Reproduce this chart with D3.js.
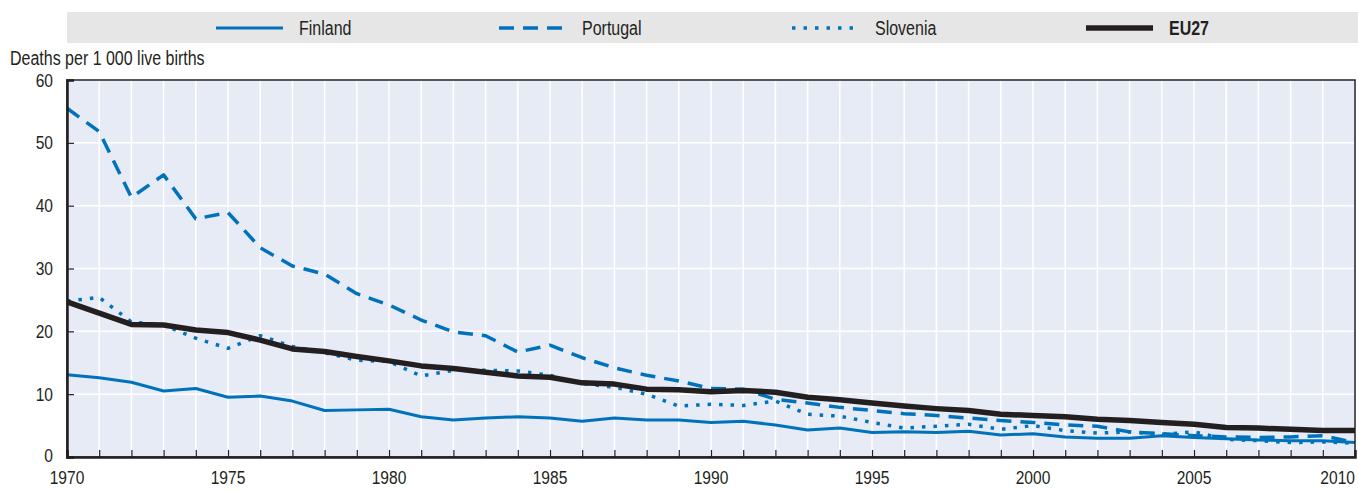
<!DOCTYPE html>
<html>
<head>
<meta charset="utf-8">
<script src="https://cdn.jsdelivr.net/npm/d3@7"></script>
<style>
  body { margin: 0; background: #fff; }
  text { font-family: "Liberation Sans", Arial, sans-serif; fill: #231f20; }
</style>
</head>
<body>
<div id="chart"></div>
<script>
// valeurs (décès pour 1 000 naissances vivantes)
var years = d3.range(1970, 2011);
var finland  = [13.1,12.6,11.9,10.5,10.9,9.5,9.7,8.9,7.4,7.5,7.6,6.4,5.9,6.2,6.4,6.2,5.7,6.2,5.9,5.9,5.5,5.7,5.1,4.3,4.6,3.9,4.0,3.9,4.1,3.5,3.7,3.2,3.0,3.0,3.4,3.1,2.9,2.7,2.6,2.6,2.3];
var portugal = [55.5,51.8,41.3,44.9,37.9,38.9,33.3,30.4,29.1,26.0,24.2,21.8,19.9,19.3,16.7,17.8,15.8,14.2,13.0,12.1,10.9,10.8,9.2,8.6,7.9,7.4,6.9,6.6,6.2,5.8,5.5,5.1,4.9,4.0,3.7,3.4,3.2,3.1,3.2,3.4,2.3];
var slovenia = [24.8,25.4,21.5,21.0,18.9,17.3,19.3,17.6,16.6,15.4,15.2,12.9,13.8,13.8,13.7,13.0,11.7,11.1,10.0,8.1,8.4,8.2,8.9,6.8,6.5,5.5,4.6,4.9,5.2,4.4,5.0,4.2,3.8,4.0,3.6,4.0,2.8,2.6,2.3,2.4,2.2];
var eu27     = [24.7,22.9,21.1,21.0,20.2,19.8,18.6,17.2,16.8,16.0,15.3,14.5,14.1,13.5,12.9,12.7,11.8,11.6,10.8,10.7,10.4,10.6,10.3,9.5,9.1,8.6,8.1,7.7,7.4,6.8,6.6,6.4,6.0,5.8,5.5,5.2,4.7,4.6,4.4,4.2,4.2];
var yTicks = [0, 10, 20, 30, 40, 50, 60];
var xLabels = [1970, 1975, 1980, 1985, 1990, 1995, 2000, 2005, 2010];

var blue = "#0072bc", black = "#231f20";
var series = [
  {name: "Finland",  values: finland,  color: blue,  width: 3,   dash: null,   bold: false},
  {name: "Portugal", values: portugal, color: blue,  width: 3.5, dash: "15,9", bold: false},
  {name: "Slovenia", values: slovenia, color: blue,  width: 3.5, dash: "3.5,8", bold: false},
  {name: "EU27",     values: eu27,     color: black, width: 5.5, dash: null,   bold: true}
];

var W = 1358, H = 490;
var m = {left: 67, right: 3, top: 80, bottom: 33};
var narrow = 0.82; // police étroite simulée

var svg = d3.select("#chart").append("svg")
    .attr("width", W).attr("height", H);

function label(sel, px, py, size){
  return sel.attr("transform", function(d, i){
      return "translate(" + px(d, i) + "," + py(d, i) + ") scale(" + narrow + ",1)";
    })
    .attr("dy", "0.35em")
    .style("font-size", size + "px");
}

// légende
var legend = svg.append("g");
legend.append("rect").attr("x", 67).attr("y", 12).attr("width", W - 67).attr("height", 31).attr("fill", "#e6e6e6");
var legX = [216, 499, 792, 1086];
var item = legend.selectAll(".item").data(series).enter().append("g")
    .attr("transform", function(d, i){ return "translate(" + legX[i] + ",28)"; });
item.append("line").attr("x1", 0).attr("x2", 67)
    .attr("stroke", function(d){ return d.color; })
    .attr("stroke-width", function(d){ return d.width; })
    .attr("stroke-dasharray", function(d){ return d.dash; });
label(item.append("text"), function(){ return 83; }, function(){ return 0; }, 19.5)
    .style("font-weight", function(d){ return d.bold ? "bold" : "normal"; })
    .text(function(d){ return d.name; });

var x = d3.scaleLinear().domain([1970, 2010]).range([m.left, W - m.right]);
var y = d3.scaleLinear().domain([0, 60]).range([H - m.bottom, m.top]);

// fond et grille
svg.append("rect").attr("x", m.left).attr("y", m.top)
    .attr("width", x.range()[1] - m.left).attr("height", y(0) - m.top)
    .attr("fill", "#e6ebf6");
svg.append("g").selectAll("line").data(years).enter().append("line")
    .attr("x1", function(d){ return x(d); }).attr("x2", function(d){ return x(d); })
    .attr("y1", m.top).attr("y2", y(0))
    .attr("stroke", "#fff").attr("stroke-width", 1.5);
svg.append("g").selectAll("line").data(yTicks).enter().append("line")
    .attr("x1", m.left).attr("x2", x.range()[1])
    .attr("y1", function(d){ return y(d); }).attr("y2", function(d){ return y(d); })
    .attr("stroke", "#fff").attr("stroke-width", 1.5);

// courbes
var line = d3.line()
    .x(function(d, i){ return x(years[i]); })
    .y(function(d){ return y(d); });
svg.append("g").selectAll("path").data(series).enter().append("path")
    .attr("d", function(d){ return line(d.values); })
    .attr("fill", "none")
    .attr("stroke", function(d){ return d.color; })
    .attr("stroke-width", function(d){ return d.width; })
    .attr("stroke-dasharray", function(d){ return d.dash; })
    .attr("stroke-linejoin", "round");

// cadre
svg.append("rect").attr("x", m.left).attr("y", m.top)
    .attr("width", x.range()[1] - m.left).attr("height", y(0) - m.top)
    .attr("fill", "none").attr("stroke", black).attr("stroke-width", 1.5);

// axes (graduations vers l'intérieur)
var yAxis = svg.append("g").attr("transform", "translate(" + m.left + ",0)")
    .call(d3.axisRight(y).tickValues(yTicks).tickSize(7).tickFormat(""));
var xAxis = svg.append("g").attr("transform", "translate(0," + y(0) + ")")
    .call(d3.axisTop(x).tickValues(years.slice(0, -1)).tickSize(7).tickFormat(""));
[yAxis, xAxis].forEach(function(a){
  a.select(".domain").attr("stroke", black).attr("stroke-width", 2.5);
  a.selectAll(".tick line").attr("stroke", black).attr("stroke-width", 1.2);
});

label(svg.append("g").selectAll("text").data(yTicks).enter().append("text"),
    function(){ return m.left - 14; }, function(d){ return d === 0 ? y(d) - 2 : y(d); }, 19)
    .attr("text-anchor", "end")
    .text(function(d){ return d; });

label(svg.append("g").selectAll("text").data(xLabels).enter().append("text"),
    function(d){ return x(d); }, function(){ return y(0) + 20; }, 19)
    .attr("text-anchor", function(d){ return d === 2010 ? "end" : "middle"; })
    .text(function(d){ return d; });

label(svg.append("text").datum(0), function(){ return 10; }, function(){ return 58; }, 19.5)
    .text("Deaths per 1 000 live births");
</script>
</body>
</html>
